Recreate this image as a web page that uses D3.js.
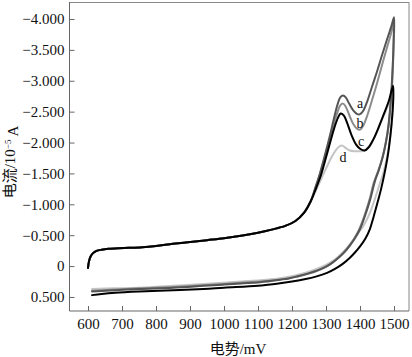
<!DOCTYPE html>
<html>
<head>
<meta charset="utf-8">
<script src="https://cdn.jsdelivr.net/npm/d3@7/dist/d3.min.js"></script>
<style>
  html, body { margin: 0; padding: 0; background: #fff; }
  svg { display: block; }
</style>
</head>
<body>
<svg id="chart" width="412" height="357"></svg>
<script>
// ---- data (potential mV, current 10^-5 A; negative plotted upward) ----
const xTicks = [600, 700, 800, 900, 1000, 1100, 1200, 1300, 1400, 1500];
const yTicks = [-4, -3.5, -3, -2.5, -2, -1.5, -1, -0.5, 0, 0.5];
const yTickLabels = ["\u22124.000", "\u22123.500", "\u22123.000", "\u22122.500", "\u22122.000",
                     "\u22121.500", "\u22121.000", "\u22120.500", "0", "0.500"];

const forwardStart = [[600,0.03],[603,-0.08],[608,-0.16],[615,-0.21],[625,-0.245],[640,-0.265],
  [660,-0.28],[690,-0.29],[720,-0.295],[760,-0.305],[800,-0.325],[850,-0.36],[900,-0.39],
  [950,-0.42],[1000,-0.45],[1050,-0.49],[1100,-0.54],[1140,-0.59],[1180,-0.65],[1210,-0.73],
  [1235,-0.86],[1255,-1.05]];

const curveA = [[1268,-1.26],[1282,-1.5],[1296,-1.78],[1310,-2.08],[1322,-2.36],[1333,-2.6],
  [1342,-2.73],[1350,-2.76],[1358,-2.73],[1368,-2.63],[1380,-2.52],[1392,-2.46],[1400,-2.46],
  [1410,-2.52],[1422,-2.68],[1435,-2.9],[1450,-3.15],[1465,-3.42],[1480,-3.68],[1492,-3.88],
  [1500,-4.03],
  [1499,-3.7],[1497,-3.35],[1494,-3.0],[1490,-2.65],[1484,-2.3],[1476,-2.0],[1466,-1.75],
  [1455,-1.55],[1444,-1.38],[1430,-1.08],[1415,-0.82],[1400,-0.6],[1385,-0.45],[1370,-0.33],
  [1355,-0.23],[1340,-0.15],[1320,-0.06],[1300,0.01],[1275,0.07],[1253,0.11],[1220,0.16],
  [1190,0.2],[1165,0.22],[1106,0.26],[1050,0.28],[1000,0.3],[940,0.32],[850,0.35],[750,0.37],
  [680,0.39],[612,0.41]];

const curveB = [[1268,-1.25],[1282,-1.48],[1296,-1.75],[1310,-2.03],[1322,-2.28],[1333,-2.48],
  [1342,-2.6],[1350,-2.63],[1358,-2.58],[1368,-2.45],[1380,-2.3],[1392,-2.22],[1400,-2.21],
  [1410,-2.28],[1422,-2.45],[1435,-2.68],[1450,-2.96],[1465,-3.26],[1480,-3.55],[1492,-3.78],
  [1500,-3.95],
  [1499,-3.6],[1497,-3.25],[1494,-2.9],[1489,-2.55],[1483,-2.22],[1474,-1.95],[1464,-1.72],
  [1452,-1.52],[1441,-1.36],[1427,-1.06],[1412,-0.8],[1397,-0.59],[1382,-0.44],[1367,-0.32],
  [1352,-0.22],[1337,-0.14],[1317,-0.05],[1297,0.02],[1272,0.08],[1250,0.12],[1217,0.17],
  [1187,0.2],[1160,0.22],[1106,0.25],[1050,0.27],[1000,0.29],[940,0.31],[850,0.34],[750,0.36],
  [680,0.38],[612,0.40]];

const curveC = [[1270,-1.25],[1285,-1.47],[1298,-1.72],[1312,-2.0],[1325,-2.25],[1335,-2.4],
  [1343,-2.47],[1352,-2.44],[1362,-2.32],[1375,-2.12],[1388,-1.97],[1400,-1.9],[1413,-1.87],
  [1425,-1.92],[1440,-2.06],[1455,-2.25],[1470,-2.46],[1485,-2.68],[1497,-2.92],
  [1498,-2.75],[1495,-2.45],[1490,-2.15],[1482,-1.8],[1472,-1.5],[1462,-1.25],[1452,-1.04],
  [1440,-0.8],[1429,-0.6],[1415,-0.44],[1400,-0.32],[1385,-0.22],[1371,-0.14],[1350,-0.04],
  [1325,0.05],[1303,0.11],[1270,0.17],[1240,0.21],[1200,0.25],[1150,0.29],[1100,0.32],
  [1000,0.35],[940,0.37],[850,0.39],[750,0.41],[680,0.43],[640,0.45],[612,0.47]];

const curveD = [[1270,-1.22],[1285,-1.4],[1300,-1.58],[1315,-1.75],[1328,-1.87],[1340,-1.94],
  [1348,-1.95],[1358,-1.91],[1370,-1.87],[1385,-1.86],[1400,-1.86],[1413,-1.87],[1425,-1.93],
  [1440,-2.06],[1455,-2.24],[1470,-2.44],[1485,-2.64],[1496,-2.85],
  [1497,-2.65],[1494,-2.35],[1488,-2.05],[1479,-1.75],[1468,-1.5],[1456,-1.3],[1442,-1.06],
  [1428,-0.85],[1412,-0.67],[1397,-0.55],[1380,-0.42],[1362,-0.3],[1345,-0.2],[1325,-0.1],
  [1300,-0.02],[1270,0.05],[1245,0.1],[1210,0.15],[1160,0.2],[1106,0.23],[1050,0.25],
  [1000,0.27],[940,0.29],[850,0.32],[750,0.35],[680,0.36],[612,0.37]];

const seriesNames = ["d", "b", "a", "c"];
const seriesTails = [curveD, curveB, curveA, curveC];
const seriesColors = ["#c4c4c4", "#8c8c8c", "#555555", "#000000"];
const labelNames = ["a", "b", "c", "d"];
const labelPos = [[1400, -2.64], [1400, -2.31], [1403, -2.02], [1350, -1.76]];

// ---- layout ----
const FONT = "'Liberation Serif', 'Times New Roman', 'Noto Sans CJK SC', serif";
const svg = d3.select("#chart");
const pL = 69.5, pR = 409, pT = 2, pB = 311;
const x = d3.scaleLinear().domain([545.6, 1544]).range([pL, pR]);
const y = d3.scaleLinear().domain([-4.275, 0.727]).range([pT, pB]);

// frame top/right
svg.append("line").attr("x1", pL).attr("x2", pR).attr("y1", pT + 0.5).attr("y2", pT + 0.5)
  .attr("stroke", "#888").attr("stroke-width", 1);
svg.append("line").attr("x1", pR).attr("x2", pR).attr("y1", pT).attr("y2", pB)
  .attr("stroke", "#888").attr("stroke-width", 1);

// axes
const xAxis = d3.axisBottom(x).tickValues(xTicks).tickSizeInner(-5).tickSizeOuter(0)
  .tickPadding(7).tickFormat(d3.format("d"));
const gx = svg.append("g").attr("transform", `translate(0,${pB})`).call(xAxis);
gx.attr("font-family", null).attr("font-size", null);
gx.select(".domain").attr("stroke", "#666").attr("d", `M${pL},0H${pR}`);
gx.selectAll(".tick line").attr("stroke", "#666");
gx.selectAll("text").style("font-family", FONT).style("font-size", "15px").attr("fill", "#111");

const yAxis = d3.axisLeft(y).tickValues(yTicks).tickSizeInner(-5).tickSizeOuter(0)
  .tickPadding(5).tickFormat((d, i) => yTickLabels[i]);
const gy = svg.append("g").attr("transform", `translate(${pL},0)`).call(yAxis);
gy.attr("font-family", null).attr("font-size", null);
gy.select(".domain").attr("stroke", "#666").attr("d", `M0,${pT}V${pB}`);
gy.selectAll(".tick line").attr("stroke", "#666");
gy.selectAll("text").style("font-family", FONT).style("font-size", "15px").attr("fill", "#111");

// curves
const line = d3.line().x(d => x(d[0])).y(d => y(d[1])).curve(d3.curveCatmullRom.alpha(0.5));
seriesTails.forEach((tail, k) => {
  const pts = forwardStart.concat(tail);
  svg.append("path").datum(pts).attr("d", line)
    .attr("fill", "none").attr("stroke", seriesColors[k])
    .attr("stroke-width", 2).attr("stroke-linejoin", "round").attr("stroke-linecap", "round");
});

// curve labels
labelNames.forEach((n, k) => {
  svg.append("text").attr("x", x(labelPos[k][0])).attr("y", y(labelPos[k][1]))
    .attr("text-anchor", "middle").attr("dominant-baseline", "central")
    .style("font-family", FONT).style("font-size", "14px").attr("fill", "#111").text(n);
});

// axis titles
svg.append("text").attr("x", 238).attr("y", 354).attr("text-anchor", "middle")
  .style("font-family", FONT).style("font-size", "15px").attr("fill", "#111").text("电势/mV");

const yt = svg.append("text").attr("transform", "translate(15,162) rotate(-90)")
  .attr("text-anchor", "middle").style("font-family", FONT).style("font-size", "15px")
  .attr("fill", "#111");
yt.append("tspan").text("电流/10");
yt.append("tspan").attr("dy", "-0.45em").style("font-size", "9px").text("\u22125");
yt.append("tspan").attr("dy", "0.45em").text("\u2009A");
</script>
</body>
</html>
